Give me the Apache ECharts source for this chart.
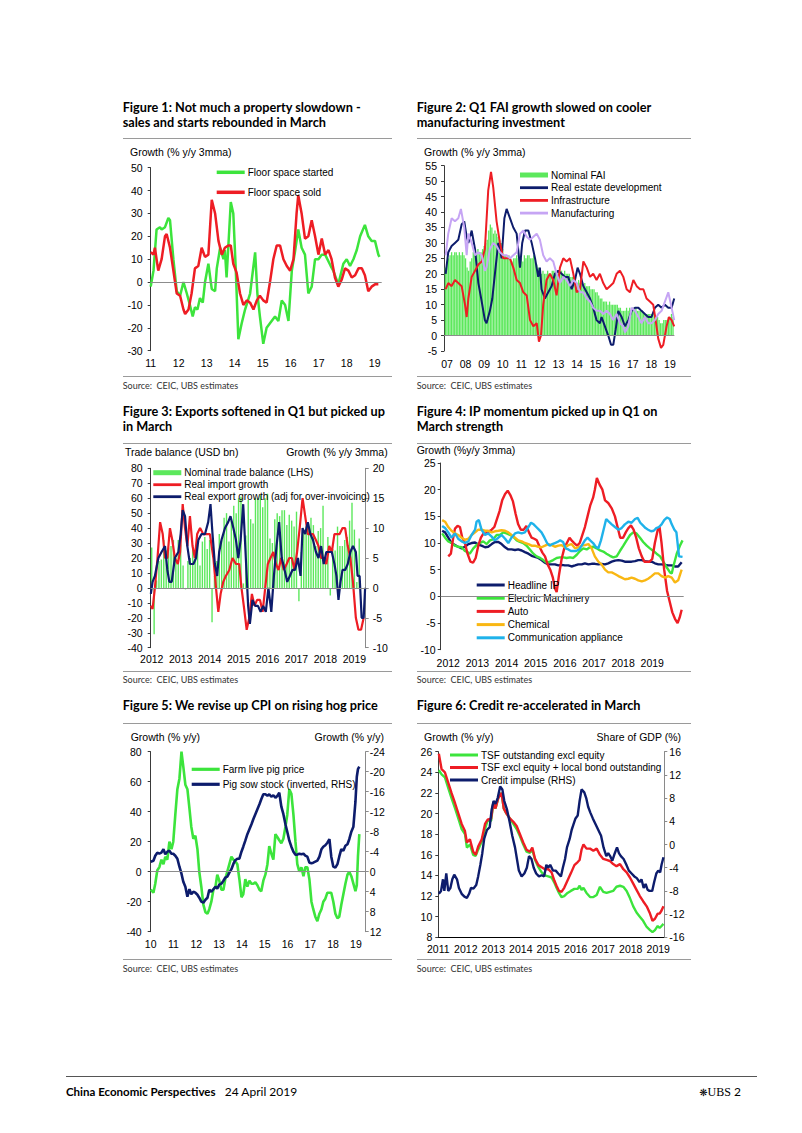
<!DOCTYPE html>
<html>
<head>
<meta charset="utf-8">
<script src="https://cdn.jsdelivr.net/npm/echarts@6.0.0/dist/echarts.min.js"></script>
<style>
html,body{margin:0;padding:0;background:#fff;}
#page{position:relative;width:802px;height:1133px;overflow:hidden;background:#fff;}
#chart{position:absolute;left:0;top:0;width:802px;height:1133px;}
.t{position:absolute;white-space:pre;color:#000;z-index:5;}
.title{font-family:Lato,"Open Sans",sans-serif;font-weight:700;font-size:12.7px;line-height:14.5px;}
.src{font-family:Lato,"Open Sans",sans-serif;font-size:9px;line-height:12px;color:#333;}
.hdr{font-family:"Liberation Sans",Arial,sans-serif;font-size:10.5px;line-height:12px;}
.rule{position:absolute;height:0;border-top:1px solid #9a9a9a;z-index:5;}
.foot{font-family:Lato,"Open Sans",sans-serif;font-size:12px;line-height:14px;}
</style>
</head>
<body>
<div id="page">
<div id="chart"></div>

<div class="t title" style="left:122.7px;top:100px;">Figure 1: Not much a property slowdown -
sales and starts rebounded in March</div>
<div class="t title" style="left:416.7px;top:100px;">Figure 2: Q1 FAI growth slowed on cooler
manufacturing investment</div>
<div class="t title" style="left:122.7px;top:404.4px;">Figure 3: Exports softened in Q1 but picked up
in March</div>
<div class="t title" style="left:416.7px;top:404.4px;">Figure 4: IP momentum picked up in Q1 on
March strength</div>
<div class="t title" style="left:122.7px;top:697.7px;">Figure 5: We revise up CPI on rising hog price</div>
<div class="t title" style="left:416.7px;top:697.7px;">Figure 6: Credit re-accelerated in March</div>

<div class="rule" style="left:122.7px;top:138px;width:269px;"></div>
<div class="rule" style="left:416.7px;top:138px;width:274.3px;"></div>
<div class="rule" style="left:122.7px;top:442.5px;width:269px;"></div>
<div class="rule" style="left:416.7px;top:442.5px;width:274.3px;"></div>
<div class="rule" style="left:122.7px;top:723px;width:269px;"></div>
<div class="rule" style="left:416.7px;top:723px;width:274.3px;"></div>

<div class="rule" style="left:122.7px;top:375.5px;width:269px;"></div>
<div class="rule" style="left:416.7px;top:375.5px;width:274.3px;"></div>
<div class="rule" style="left:122.7px;top:671px;width:269px;"></div>
<div class="rule" style="left:416.7px;top:671px;width:274.3px;"></div>
<div class="rule" style="left:122.7px;top:958.5px;width:269px;"></div>
<div class="rule" style="left:416.7px;top:958.5px;width:274.3px;"></div>

<div class="t src" style="left:122.7px;top:379.5px;">Source:  CEIC, UBS estimates</div>
<div class="t src" style="left:416.7px;top:379.5px;">Source:  CEIC, UBS estimates</div>
<div class="t src" style="left:122.7px;top:673.5px;">Source:  CEIC, UBS estimates</div>
<div class="t src" style="left:416.7px;top:673.5px;">Source:  CEIC, UBS estimates</div>
<div class="t src" style="left:122.7px;top:963px;">Source:  CEIC, UBS estimates</div>
<div class="t src" style="left:416.7px;top:963px;">Source:  CEIC, UBS estimates</div>

<div class="t hdr" style="left:130px;top:146.3px;">Growth (% y/y 3mma)</div>
<div class="t hdr" style="left:424px;top:146.3px;">Growth (% y/y 3mma)</div>
<div class="t hdr" style="left:125px;top:445.7px;">Trade balance (USD bn)</div>
<div class="t hdr" style="right:414.3px;top:445.7px;">Growth (% y/y 3mma)</div>
<div class="t hdr" style="left:416.7px;top:444px;">Growth (%y/y 3mma)</div>
<div class="t hdr" style="left:130.7px;top:730.7px;">Growth (% y/y)</div>
<div class="t hdr" style="right:418px;top:730.7px;">Growth (% y/y)</div>
<div class="t hdr" style="left:424px;top:730.7px;">Growth (% y/y)</div>
<div class="t hdr" style="right:121px;top:730.7px;">Share of GDP (%)</div>

<div style="position:absolute;left:66px;top:1076px;width:691px;height:0;border-top:1.3px solid #555;"></div>
<div class="t foot" style="left:66px;top:1085px;"><b style="font-size:11.5px;">China Economic Perspectives</b>   24 April 2019</div>
<div class="t foot" style="right:61px;top:1085px;"><span style="font-family:'DejaVu Sans';font-size:10px;">❋</span><span style="font-family:'Liberation Serif';font-size:12px;">UBS</span> 2</div>
</div>

<script>
// ---------------- DATA ----------------
// Figure 1: floor space, % y/y 3mma  [year, value]
const fig1Started = [[2011.00,-2],[2011.10,5],[2011.21,23],[2011.33,24],[2011.39,23],[2011.51,24],[2011.63,28],[2011.69,27],[2011.81,10],[2011.93,-4],[2012.05,-6],[2012.17,0],[2012.29,-5],[2012.40,-10],[2012.50,-15],[2012.58,-11],[2012.67,-12],[2012.76,-7],[2012.86,-9],[2012.94,0],[2013.06,8],[2013.18,-3],[2013.30,-4],[2013.36,6],[2013.48,15],[2013.60,10],[2013.65,14],[2013.71,2],[2013.77,15],[2013.86,35],[2013.95,30],[2014.04,5],[2014.13,-25],[2014.25,-18],[2014.37,-12],[2014.55,-5],[2014.73,13],[2014.81,-5],[2014.90,-15],[2015.02,-27],[2015.14,-20],[2015.26,-18],[2015.44,-15],[2015.56,-17],[2015.68,-8],[2015.80,-10],[2015.92,-17],[2016.04,5],[2016.15,13],[2016.27,23],[2016.39,15],[2016.51,12],[2016.63,-5],[2016.75,-2],[2016.87,10],[2016.99,10],[2017.11,12],[2017.23,12],[2017.35,9],[2017.43,7],[2017.52,5],[2017.70,-1],[2017.88,8],[2018.00,10],[2018.12,7],[2018.24,10],[2018.36,14],[2018.48,20],[2018.65,25],[2018.77,20],[2018.89,18],[2019.01,18],[2019.13,12],[2019.17,11]];
const fig1Sold = [[2011.00,13],[2011.10,12],[2011.15,15],[2011.27,5],[2011.39,10],[2011.51,20],[2011.57,21],[2011.69,15],[2011.81,5],[2011.93,-5],[2012.05,-6],[2012.17,-12],[2012.23,-14],[2012.35,-12],[2012.46,-5],[2012.58,6],[2012.70,7],[2012.82,15],[2012.94,11],[2013.06,12],[2013.18,36],[2013.30,30],[2013.42,18],[2013.54,12],[2013.65,15],[2013.77,16],[2013.86,16],[2013.95,8],[2014.07,4],[2014.19,-5],[2014.31,-10],[2014.43,-8],[2014.55,-9],[2014.67,-12],[2014.79,-8],[2014.90,-6],[2015.02,-8],[2015.14,-9],[2015.26,0],[2015.38,10],[2015.50,16],[2015.62,16],[2015.74,10],[2015.86,7],[2015.98,5],[2016.10,10],[2016.21,30],[2016.27,38],[2016.39,30],[2016.51,19],[2016.63,20],[2016.75,27],[2016.87,20],[2016.99,12],[2017.11,19],[2017.23,12],[2017.35,14],[2017.46,10],[2017.58,2],[2017.70,-2],[2017.82,1],[2017.94,6],[2018.06,5],[2018.18,2],[2018.30,3],[2018.42,6],[2018.54,6],[2018.65,3],[2018.77,-4],[2018.89,-2],[2019.01,-1],[2019.13,-1]];
const fig1Years = [2011,2012,2013,2014,2015,2016,2017,2018,2019];

// Figure 2: FAI, % y/y 3mma
const fig2FaiStart = 2006 + 11/12; // first monthly bar: Dec 2006
const fig2Fai = [22,
 24,25,26,27,26,27,27,26,27,26,27,26,
 25,22,21,24,25,27,27,26,28,27,27,28,
 29,30,31,34,36,35,33,34,33,32,31,30,
 28,26,26,25,26,25,24,25,25,26,25,24,
 25,24,26,25,26,26,25,25,26,24,23,22,
 21,20,21,20,20,21,20,20,21,21,20,21,
 21,20,21,20,21,20,20,20,19,19,19,18,
 17,18,17,17,16,17,16,16,16,15,15,15,
 14,14,13,12,12,11,11,11,10,11,10,10,
 10,10,10,9,9,8,8,8,9,8,9,8,
 9,9,9,8,8,8,8,7,7,7,7,7,
 7,7,7,6,6,5,4,4,5,5,5,6,
 6,7,6];
const fig2RealEstate = [[2006.93,20],[2007.07,27],[2007.25,29],[2007.43,30],[2007.61,31],[2007.79,36],[2007.93,37],[2008.06,32],[2008.15,30],[2008.24,32],[2008.33,34],[2008.51,28],[2008.69,17],[2008.87,11],[2009.04,5],[2009.13,4],[2009.31,8],[2009.44,12],[2009.58,20],[2009.76,30],[2009.85,28],[2009.94,25],[2010.09,38],[2010.21,41],[2010.39,38],[2010.57,35],[2010.75,33],[2010.93,22],[2011.05,30],[2011.20,34],[2011.38,34],[2011.56,30],[2011.74,25],[2011.91,19],[2012.00,22],[2012.09,15],[2012.27,12],[2012.45,14],[2012.63,16],[2012.81,20],[2012.99,21],[2013.17,20],[2013.35,19],[2013.53,19],[2013.71,15],[2013.89,18],[2014.03,22],[2014.16,20],[2014.34,16],[2014.52,14],[2014.70,12],[2014.87,9],[2015.05,5],[2015.23,4],[2015.32,6],[2015.50,3],[2015.68,0],[2015.83,-3],[2015.95,-3],[2016.08,2],[2016.22,8],[2016.40,6],[2016.58,3],[2016.76,5],[2016.94,8],[2017.12,9],[2017.30,9],[2017.47,8],[2017.65,7],[2017.83,6],[2018.01,6],[2018.19,9],[2018.37,10],[2018.55,9],[2018.73,10],[2018.91,9],[2019.09,9],[2019.23,12]];
const fig2Infra = [[2006.93,15],[2007.07,17],[2007.25,16],[2007.43,18],[2007.61,17],[2007.79,16],[2007.97,10],[2008.06,6],[2008.15,12],[2008.33,19],[2008.51,21],[2008.69,23],[2008.87,24],[2009.04,28],[2009.22,47],[2009.37,53],[2009.49,48],[2009.67,37],[2009.85,30],[2010.03,25],[2010.21,25],[2010.39,25],[2010.57,22],[2010.75,18],[2010.93,17],[2011.11,14],[2011.29,13],[2011.47,5],[2011.65,3],[2011.83,4],[2011.95,-2],[2012.06,0],[2012.18,10],[2012.36,18],[2012.54,20],[2012.72,18],[2012.90,13],[2013.08,22],[2013.26,25],[2013.44,24],[2013.62,25],[2013.80,20],[2013.98,14],[2014.16,15],[2014.34,24],[2014.52,22],[2014.70,19],[2014.87,20],[2015.05,18],[2015.23,20],[2015.41,17],[2015.59,15],[2015.77,16],[2015.95,17],[2016.13,20],[2016.31,21],[2016.49,19],[2016.67,15],[2016.85,14],[2017.03,18],[2017.21,16],[2017.39,15],[2017.57,15],[2017.74,12],[2017.92,11],[2018.10,10],[2018.23,5],[2018.37,-1],[2018.52,-4],[2018.64,-3],[2018.82,3],[2018.95,6],[2019.09,5],[2019.23,3]];
const fig2Manuf = [[2006.93,26],[2007.07,33],[2007.25,38],[2007.43,37],[2007.61,38],[2007.75,41],[2007.93,35],[2008.06,26],[2008.15,33],[2008.33,30],[2008.51,26],[2008.69,27],[2008.87,26],[2009.04,21],[2009.13,22],[2009.31,28],[2009.49,30],[2009.67,29],[2009.85,27],[2010.03,26],[2010.21,26],[2010.39,25],[2010.57,26],[2010.75,27],[2010.93,33],[2011.11,34],[2011.29,32],[2011.47,31],[2011.65,32],[2011.83,33],[2012.00,31],[2012.18,26],[2012.36,24],[2012.54,25],[2012.72,24],[2012.90,20],[2013.08,17],[2013.26,19],[2013.44,18],[2013.62,16],[2013.80,18],[2013.98,17],[2014.16,14],[2014.34,14],[2014.52,12],[2014.70,11],[2014.87,9],[2015.05,8],[2015.23,8],[2015.41,7],[2015.59,8],[2015.77,7],[2015.95,5],[2016.13,7],[2016.31,4],[2016.49,3],[2016.58,1],[2016.76,3],[2016.94,9],[2017.12,8],[2017.30,6],[2017.47,4],[2017.65,6],[2017.83,4],[2018.01,4],[2018.19,5],[2018.37,7],[2018.55,8],[2018.73,11],[2018.91,14],[2019.09,9],[2019.23,5]];
const fig2Years = [2007,2008,2009,2010,2011,2012,2013,2014,2015,2016,2017,2018,2019];

// Figure 3: trade
const fig3TradeStart = 2012; // Jan 2012, monthly
const fig3Trade = [27,-31,5,18,19,32,25,27,28,32,20,32,
 29,15,-1,18,20,27,18,29,15,31,34,26,
 32,-23,8,18,36,32,47,50,31,45,55,50,
 60,61,3,35,59,46,43,60,60,62,54,60,
 63,33,30,46,50,48,52,52,42,49,45,41,
 51,-9,24,38,41,43,47,42,28,38,40,55,
 20,34,-5,26,25,41,28,28,32,34,45,57,
 39,4,33];
const fig3Import = [[2011.97,-3],[2012.03,-3.5],[2012.11,0],[2012.20,5],[2012.29,11],[2012.38,9],[2012.46,5],[2012.54,5],[2012.63,10],[2012.71,8],[2012.80,5],[2012.90,4],[2012.98,6],[2013.07,14],[2013.15,10],[2013.23,7],[2013.32,12],[2013.41,7],[2013.49,5],[2013.57,9],[2013.67,10],[2013.78,9],[2013.90,9],[2014.01,9],[2014.13,5],[2014.22,0],[2014.30,-4],[2014.38,-1],[2014.47,1],[2014.56,2],[2014.68,3],[2014.79,5],[2014.91,4],[2015.02,4],[2015.10,0],[2015.18,-3],[2015.28,-7],[2015.37,-5],[2015.46,-1],[2015.55,-3],[2015.64,-2],[2015.74,-2],[2015.83,-4],[2015.92,0],[2016.01,4],[2016.10,5],[2016.20,6],[2016.29,4],[2016.38,3],[2016.47,5],[2016.56,3],[2016.66,4],[2016.75,5],[2016.84,5],[2016.93,3],[2017.02,6],[2017.11,10],[2017.21,15],[2017.30,12],[2017.39,9],[2017.48,9],[2017.57,9],[2017.67,8],[2017.76,7],[2017.85,5],[2017.94,5],[2018.03,4],[2018.13,7],[2018.22,6],[2018.31,9],[2018.40,9],[2018.49,9],[2018.59,10],[2018.68,10],[2018.77,7],[2018.86,5],[2018.95,1],[2019.05,-5],[2019.14,-7],[2019.23,-7],[2019.32,-5]];
const fig3Export = [[2011.97,-1],[2012.03,1],[2012.11,2],[2012.23,5],[2012.34,6],[2012.46,7],[2012.54,3],[2012.61,1],[2012.69,1],[2012.80,5],[2012.92,6],[2013.00,9],[2013.07,13],[2013.15,12],[2013.23,7],[2013.32,4],[2013.44,4],[2013.53,5],[2013.61,8],[2013.72,9],[2013.84,9],[2013.95,11],[2014.03,14],[2014.10,9],[2014.18,4],[2014.26,2],[2014.33,6],[2014.41,8],[2014.53,10],[2014.64,11],[2014.72,12],[2014.82,10],[2014.91,8],[2014.99,5],[2015.07,8],[2015.16,14],[2015.25,5],[2015.33,-3],[2015.39,-6],[2015.48,-2],[2015.57,-3],[2015.67,-3],[2015.76,-4],[2015.85,-3],[2015.94,-4],[2016.03,0],[2016.13,-4],[2016.22,2],[2016.31,7],[2016.40,11],[2016.49,5],[2016.59,3],[2016.68,1],[2016.77,2],[2016.86,3],[2016.95,3],[2017.05,5],[2017.14,2],[2017.21,10],[2017.30,9],[2017.39,11],[2017.48,9],[2017.57,8],[2017.67,6],[2017.76,5],[2017.85,7],[2017.94,4],[2018.03,6],[2018.13,6],[2018.22,6],[2018.31,4],[2018.38,2],[2018.45,-2],[2018.52,1],[2018.59,3],[2018.68,3],[2018.77,4],[2018.86,6],[2018.95,7],[2019.05,6],[2019.11,2],[2019.18,2],[2019.25,-5],[2019.32,-5],[2019.37,0]];
const fig3Years = [2012,2013,2014,2015,2016,2017,2018,2019];

// Figure 4: IP, % y/y 3mma (positions on the printed year scale)
const fig4Headline = [[2011.79,12.3],[2011.89,12],[2012.00,11],[2012.11,10],[2012.23,9.6],[2012.34,9.3],[2012.46,9],[2012.57,9.3],[2012.69,9.8],[2012.80,10],[2012.92,10.1],[2013.03,9.7],[2013.14,9.5],[2013.26,9.2],[2013.37,9.3],[2013.49,9.8],[2013.60,10.2],[2013.72,10.2],[2013.83,9.8],[2013.95,9.2],[2014.06,8.8],[2014.17,8.8],[2014.29,8.7],[2014.40,8.8],[2014.52,8.6],[2014.63,8.3],[2014.75,8.0],[2014.86,7.6],[2014.97,7.4],[2015.09,7.2],[2015.20,6.8],[2015.32,6.3],[2015.43,6.0],[2015.55,6.0],[2015.66,6.0],[2015.78,5.8],[2015.89,5.9],[2016.00,5.8],[2016.12,5.8],[2016.23,5.6],[2016.35,5.8],[2016.46,6.0],[2016.58,6.0],[2016.69,6.2],[2016.81,6.0],[2016.92,6.1],[2017.03,6.1],[2017.15,6.0],[2017.26,6.1],[2017.38,6.0],[2017.49,6.2],[2017.61,6.5],[2017.72,6.7],[2017.84,6.8],[2017.95,6.7],[2018.06,6.5],[2018.18,6.5],[2018.29,6.5],[2018.41,6.6],[2018.52,6.8],[2018.64,6.8],[2018.75,6.6],[2018.86,6.5],[2018.98,6.5],[2019.09,6.2],[2019.21,6.0],[2019.32,6.0],[2019.44,5.9],[2019.55,5.8],[2019.67,5.8],[2019.78,5.6],[2019.89,5.6],[2020.01,6.4]];
const fig4Electric = [[2011.79,11.8],[2011.89,11],[2012.00,10.3],[2012.11,10],[2012.23,9.5],[2012.34,9.3],[2012.46,9.2],[2012.57,8.5],[2012.69,8.2],[2012.74,8],[2012.86,9],[2012.97,9.6],[2013.09,10],[2013.20,10.3],[2013.32,9.8],[2013.43,10.5],[2013.54,10.7],[2013.66,11.5],[2013.77,11.5],[2013.89,12],[2014.00,11.8],[2014.12,11.5],[2014.23,11.2],[2014.35,10.5],[2014.46,10.2],[2014.57,10.0],[2014.69,9.5],[2014.80,8.8],[2014.92,8.0],[2015.03,7.5],[2015.15,7.2],[2015.26,6.8],[2015.38,6.3],[2015.49,6.5],[2015.60,6.8],[2015.72,7.2],[2015.83,7.3],[2015.95,7.3],[2016.06,7.2],[2016.18,7.3],[2016.29,7.2],[2016.41,7.8],[2016.52,8.5],[2016.63,9.0],[2016.75,8.8],[2016.86,9.2],[2016.98,9.3],[2017.09,9.0],[2017.21,8.6],[2017.32,8.4],[2017.43,8.0],[2017.55,7.6],[2017.66,7.3],[2017.78,7.5],[2017.89,8.5],[2018.01,9.5],[2018.12,10.5],[2018.24,11.5],[2018.35,12.0],[2018.46,11.8],[2018.58,11.0],[2018.69,10.2],[2018.81,9.5],[2018.92,9.0],[2019.04,8.5],[2019.15,8.0],[2019.27,7.5],[2019.38,6.5],[2019.49,5.5],[2019.61,4.5],[2019.67,4.3],[2019.72,5.5],[2019.84,8],[2019.95,9.5],[2020.04,10.5]];
const fig4Auto = [[2012.00,7.5],[2012.09,8],[2012.17,11],[2012.23,12.7],[2012.32,13.2],[2012.40,13],[2012.48,11],[2012.57,10],[2012.66,8],[2012.76,6.5],[2012.85,6.3],[2012.94,7.2],[2013.03,9.5],[2013.12,11],[2013.21,11.8],[2013.30,11.8],[2013.40,12.2],[2013.49,12.5],[2013.58,13],[2013.67,14.5],[2013.76,16],[2013.85,18],[2013.95,19.2],[2014.04,19.8],[2014.13,19],[2014.22,17.8],[2014.31,15.5],[2014.40,13.5],[2014.49,12.5],[2014.59,12.5],[2014.68,13.2],[2014.77,12],[2014.86,11],[2014.95,10.8],[2015.04,10.5],[2015.14,9.2],[2015.23,8.2],[2015.32,7.5],[2015.41,6.0],[2015.50,5.0],[2015.59,3.5],[2015.66,1.5],[2015.72,0.8],[2015.80,4],[2015.89,7],[2015.98,9],[2016.07,10],[2016.16,11],[2016.23,10.5],[2016.32,10],[2016.42,9.5],[2016.51,10],[2016.60,11.5],[2016.69,13],[2016.78,15],[2016.87,17],[2016.97,18.5],[2017.03,20],[2017.10,22.2],[2017.19,21],[2017.29,20],[2017.38,18],[2017.49,17.5],[2017.61,16.5],[2017.72,15],[2017.81,13],[2017.90,11],[2018.00,11],[2018.09,12],[2018.18,12.8],[2018.27,13.3],[2018.36,12.5],[2018.45,11],[2018.54,9],[2018.64,7.5],[2018.73,6.5],[2018.82,6.5],[2018.91,6.5],[2019.00,7],[2019.09,10],[2019.19,12.5],[2019.25,13],[2019.32,10],[2019.41,5],[2019.51,1],[2019.60,-1],[2019.69,-3],[2019.78,-4.2],[2019.87,-5],[2019.94,-4],[2020.01,-2.5]];
const fig4Chemical = [[2011.79,14.3],[2011.89,14.0],[2012.00,13],[2012.11,12.3],[2012.23,11.8],[2012.34,11.5],[2012.46,11.0],[2012.57,10.6],[2012.69,10.8],[2012.80,11.5],[2012.92,12.0],[2013.03,12.5],[2013.14,12.5],[2013.26,12.3],[2013.37,12.3],[2013.49,12.0],[2013.60,12.2],[2013.72,12.3],[2013.83,12.4],[2013.95,12.3],[2014.06,12.0],[2014.17,11.5],[2014.29,11.0],[2014.40,10.5],[2014.52,10.3],[2014.63,10.0],[2014.75,9.8],[2014.86,9.5],[2014.97,9.5],[2015.09,9.3],[2015.20,9.2],[2015.32,9.5],[2015.43,9.8],[2015.55,9.6],[2015.66,9.3],[2015.78,9.5],[2015.89,9.6],[2016.00,9.2],[2016.12,9.6],[2016.23,9.8],[2016.35,9.0],[2016.46,9.2],[2016.58,9.5],[2016.69,9.6],[2016.81,9.8],[2016.92,9.0],[2017.03,7.5],[2017.15,6.5],[2017.26,6.0],[2017.38,5.0],[2017.49,4.5],[2017.61,4.5],[2017.72,4.2],[2017.84,3.8],[2017.95,3.5],[2018.06,3.2],[2018.18,3.3],[2018.29,3.5],[2018.41,3.3],[2018.52,3.0],[2018.64,2.8],[2018.75,3.0],[2018.86,3.3],[2018.98,3.8],[2019.09,4.3],[2019.21,4.3],[2019.32,3.8],[2019.44,3.5],[2019.55,3.8],[2019.67,3.5],[2019.78,2.6],[2019.89,3.0],[2020.01,5.0]];
const fig4Comm = [[2011.79,13.2],[2011.89,12.8],[2012.00,12.0],[2012.11,11.0],[2012.23,11.8],[2012.34,10.8],[2012.46,10.3],[2012.57,10.0],[2012.69,10.3],[2012.80,11.5],[2012.92,12.5],[2012.97,14],[2013.05,14.3],[2013.14,12.5],[2013.26,11.5],[2013.37,11.8],[2013.49,11.2],[2013.60,10.5],[2013.72,11.0],[2013.83,11.5],[2013.95,10.8],[2014.06,10.0],[2014.17,11.0],[2014.29,11.8],[2014.40,12.0],[2014.52,11.8],[2014.63,12.0],[2014.75,13.0],[2014.84,13.8],[2014.93,13.5],[2015.02,13.0],[2015.11,12.5],[2015.20,12.0],[2015.30,11.0],[2015.39,10.0],[2015.48,9.5],[2015.57,9.8],[2015.66,10.0],[2015.75,10.2],[2015.84,10.5],[2015.94,10.2],[2016.03,9.0],[2016.12,8.8],[2016.21,8.5],[2016.30,8.5],[2016.39,8.5],[2016.49,8.8],[2016.58,9.5],[2016.69,10.5],[2016.78,11],[2016.87,10.5],[2016.97,10],[2017.06,9.3],[2017.15,9.0],[2017.24,10.5],[2017.33,12.5],[2017.42,14.5],[2017.51,14.0],[2017.61,13.5],[2017.72,13.0],[2017.84,12.5],[2017.95,12.8],[2018.06,13.5],[2018.18,14.0],[2018.29,13.8],[2018.41,14.5],[2018.50,14.7],[2018.59,13.8],[2018.68,13.3],[2018.77,12.8],[2018.86,12.5],[2018.96,12.2],[2019.05,12.3],[2019.14,12.8],[2019.23,13.0],[2019.32,13.5],[2019.41,14.3],[2019.51,14.8],[2019.60,14.5],[2019.67,13.5],[2019.76,12.5],[2019.83,12.0],[2019.87,10.0],[2019.92,7.5],[2020.04,7.4]];
const fig4Years = [2012,2013,2014,2015,2016,2017,2018,2019];

// Figure 5: pig prices (% y/y) and sow stock (% y/y, inverted)
const fig5Time = [2010.00,2010.12,2010.20,2010.29,2010.38,2010.47,2010.56,2010.64,2010.73,2010.82,2010.91,2010.99,2011.08,2011.17,2011.26,2011.35,2011.43,2011.52,2011.61,2011.70,2011.78,2011.87,2011.96,2012.05,2012.13,2012.22,2012.31,2012.40,2012.49,2012.57,2012.66,2012.75,2012.84,2012.92,2013.01,2013.10,2013.19,2013.27,2013.36,2013.45,2013.54,2013.63,2013.71,2013.80,2013.89,2013.98,2014.06,2014.15,2014.24,2014.33,2014.42,2014.50,2014.59,2014.68,2014.77,2014.85,2014.94,2015.03,2015.12,2015.20,2015.29,2015.38,2015.47,2015.56,2015.64,2015.73,2015.82,2015.91,2015.99,2016.08,2016.17,2016.26,2016.35,2016.43,2016.52,2016.61,2016.70,2016.78,2016.87,2016.96,2017.05,2017.13,2017.22,2017.31,2017.40,2017.49,2017.57,2017.66,2017.75,2017.84,2017.92,2018.01,2018.10,2018.19,2018.27,2018.36,2018.45,2018.54,2018.63,2018.71,2018.80,2018.89,2018.98,2019.04,2019.09,2019.15];
const fig5Pig = [-12,-14,-8,1,3,8,5,10,8,20,15,20,38,55,62,80,70,58,55,42,30,22,24,15,0,-10,-22,-27,-28,-25,-20,-12,-10,-2,-6,-12,-12,-5,0,5,10,8,7,5,-5,-17,-15,-5,-10,-6,-8,-8,-7,-9,-12,-13,-6,-2,5,17,12,8,25,23,21,19,22,30,38,55,52,38,20,5,0,3,-3,3,3,-5,-20,-25,-30,-33,-28,-25,-20,-18,-14,-14,-14,-20,-28,-31,-30,-22,-15,-8,-2,0,-3,-8,-13,-9,10,25];
const fig5Sow = [-2.0,-2.2,-3.2,-3.8,-3.6,-3.8,-4.5,-3.5,-4.0,-4.2,-3.6,-3.6,-3.2,-2.6,-1.0,0.4,2.0,3.0,5.0,3.5,4.5,4.0,4.2,4.6,5.2,6.0,6.2,5.6,5.2,3.6,4.0,3.5,3.0,3.4,2.6,2.4,1.8,1.2,1.0,0.2,-0.5,-1.6,-2.3,-2.6,-2.6,-4.0,-5.0,-6.2,-7.5,-8.5,-9.5,-10.5,-11.5,-12.5,-13.5,-14.5,-15.5,-15.5,-15.2,-15.5,-15.0,-15.3,-14.8,-15.2,-15.8,-13.0,-11.5,-9.5,-8.0,-6.2,-5.0,-4.0,-3.4,-3.4,-3.6,-3.5,-3.6,-3.2,-3.0,-1.8,-1.7,-1.8,-2.0,-2.2,-3.0,-4.5,-5.0,-5.3,-5.8,-6.5,-3.0,-1.0,-0.8,-1.5,-3.0,-4.5,-4.2,-5.2,-5.5,-6.5,-8.0,-9.0,-14,-19,-20.5,-21];
const fig5Years = [2010,2011,2012,2013,2014,2015,2016,2017,2018,2019];

// Figure 6: credit
const fig6Tsf = [[2011.02,24.2],[2011.12,23.8],[2011.24,23.5],[2011.36,22.5],[2011.48,21.5],[2011.61,20.5],[2011.73,19.5],[2011.85,18.5],[2011.97,18.0],[2012.04,16.7],[2012.15,17.0],[2012.27,16.0],[2012.36,15.9],[2012.45,16.5],[2012.58,17.3],[2012.70,18.5],[2012.79,19.3],[2012.92,19.3],[2013.00,21.0],[2013.08,20.5],[2013.18,21.5],[2013.30,22.0],[2013.38,20.5],[2013.48,20.0],[2013.61,19.5],[2013.73,19.0],[2013.85,18.5],[2013.97,17.8],[2014.09,17.0],[2014.21,16.3],[2014.33,16.2],[2014.42,16.5],[2014.52,15.5],[2014.64,14.8],[2014.76,14.3],[2014.88,14.0],[2015.00,13.9],[2015.12,13.8],[2015.22,13.3],[2015.30,12.8],[2015.39,12.3],[2015.48,11.9],[2015.58,12.0],[2015.70,12.3],[2015.82,12.5],[2015.95,12.7],[2016.07,12.7],[2016.14,13.0],[2016.21,12.6],[2016.28,12.8],[2016.39,12.3],[2016.52,11.9],[2016.64,11.9],[2016.76,12.1],[2016.88,12.9],[2017.00,12.4],[2017.12,12.3],[2017.24,12.4],[2017.36,12.5],[2017.48,12.9],[2017.61,13.0],[2017.73,12.9],[2017.85,12.5],[2017.97,11.8],[2018.09,11.0],[2018.21,10.4],[2018.33,10.0],[2018.45,9.6],[2018.58,9.0],[2018.70,8.7],[2018.79,8.5],[2018.88,8.7],[2018.98,9.1],[2019.05,8.9],[2019.12,9.1],[2019.19,9.3]];
const fig6TsfBond = [[2011.02,25.8],[2011.12,24.3],[2011.24,24.0],[2011.36,23.0],[2011.48,22.0],[2011.61,21.0],[2011.73,20.0],[2011.85,19.0],[2011.97,18.3],[2012.04,17.2],[2012.15,17.5],[2012.27,16.3],[2012.36,16.0],[2012.45,16.8],[2012.58,17.5],[2012.70,19.0],[2012.79,19.4],[2012.92,19.5],[2013.00,21.0],[2013.08,20.5],[2013.18,21.5],[2013.30,22.0],[2013.38,20.5],[2013.48,20.0],[2013.61,19.5],[2013.73,19.2],[2013.85,18.8],[2013.97,18.0],[2014.09,17.2],[2014.21,16.5],[2014.33,16.3],[2014.42,16.7],[2014.52,15.6],[2014.64,15.0],[2014.76,14.8],[2014.88,14.6],[2015.00,14.6],[2015.12,14.3],[2015.22,13.5],[2015.30,13.0],[2015.39,12.5],[2015.48,12.4],[2015.58,12.8],[2015.70,13.5],[2015.82,14.2],[2015.95,15.0],[2016.07,15.3],[2016.14,15.5],[2016.21,16.5],[2016.28,17.0],[2016.39,16.6],[2016.52,16.6],[2016.64,16.4],[2016.76,16.6],[2016.88,16.0],[2017.00,15.6],[2017.12,15.5],[2017.24,15.4],[2017.36,15.1],[2017.48,14.9],[2017.61,15.1],[2017.73,14.6],[2017.85,14.3],[2017.97,13.8],[2018.09,13.2],[2018.21,12.6],[2018.33,12.0],[2018.45,11.5],[2018.58,11.0],[2018.70,10.3],[2018.79,9.6],[2018.88,9.8],[2018.98,10.3],[2019.05,10.3],[2019.12,10.6],[2019.19,11.0]];
const fig6Impulse = [[2011.02,-8.5],[2011.10,-8],[2011.17,-6],[2011.22,-8],[2011.29,-5],[2011.36,-8],[2011.44,-7.5],[2011.51,-6],[2011.58,-5.2],[2011.68,-6],[2011.75,-7.5],[2011.85,-8.5],[2011.95,-9],[2012.04,-9.2],[2012.12,-8.5],[2012.19,-7.5],[2012.28,-7.6],[2012.38,-7],[2012.45,-5.5],[2012.53,-3.5],[2012.60,-1.5],[2012.67,1],[2012.77,2.5],[2012.87,3],[2012.94,6],[2013.01,7.5],[2013.08,7],[2013.16,8],[2013.25,10],[2013.33,9.5],[2013.40,7.5],[2013.50,6],[2013.59,4],[2013.69,1.5],[2013.79,-0.5],[2013.86,-2.5],[2013.93,-4.5],[2014.03,-5.5],[2014.13,-5],[2014.22,-4],[2014.30,-2],[2014.39,-2.5],[2014.47,-4],[2014.56,-5],[2014.66,-5.5],[2014.76,-5.3],[2014.85,-5.5],[2014.93,-3.5],[2015.00,-4],[2015.07,-3.5],[2015.17,-4.5],[2015.27,-4.5],[2015.36,-5],[2015.46,-5.5],[2015.53,-4],[2015.61,-2.5],[2015.68,-0.5],[2015.78,1],[2015.85,2.5],[2015.92,3.5],[2015.99,4.5],[2016.07,5],[2016.14,7.5],[2016.21,9.5],[2016.31,9],[2016.38,8],[2016.45,6.5],[2016.53,5.5],[2016.62,4.5],[2016.72,3.5],[2016.82,2.5],[2016.92,1.5],[2017.01,-0.5],[2017.11,-2],[2017.18,-1.5],[2017.25,-2],[2017.33,-2.8],[2017.42,-1.5],[2017.50,-0.5],[2017.57,-1.5],[2017.64,-2],[2017.74,-2.5],[2017.84,-3.5],[2017.93,-4.5],[2018.03,-5],[2018.13,-5.5],[2018.22,-5.8],[2018.32,-6.5],[2018.39,-6],[2018.47,-7.5],[2018.54,-6.8],[2018.61,-7.8],[2018.68,-8],[2018.78,-8],[2018.85,-6.5],[2018.93,-5],[2019.00,-4.5],[2019.07,-4.8],[2019.12,-3.5],[2019.19,-2.2]];
const fig6Years = [2011,2012,2013,2014,2015,2016,2017,2018,2019];

// ---------------- STYLE ----------------
const FONT = '"Liberation Sans", Arial, Helvetica, sans-serif';
const GREEN = '#3ce43c', RED = '#ee1d24', NAVY = '#0d1c6c', LAV = '#c6a5f4';
const BARG = '#5ce85c', ORANGE = '#f9b713', CYAN = '#1fb2ea';
const AXIS = '#3a3a3a', AXIS2 = '#8a8a8a', ZERO = '#8c8c8c';
// legend icon: a thin bar centred in a 5px-high box (for legends that also hold a bar icon)
const THIN_ICON = 'path://M0,0 M28,5 M0,1.1 L28,1.1 L28,3.9 L0,3.9 Z';

function monthly(start, vals) { return vals.map((v, i) => [start + i / 12, v]); }
function zip(t, v) { return t.map((x, i) => [x, v[i]]); }
const yy = v => String(Math.round(v)).slice(2);
const yyyy = v => String(Math.round(v));

function xAx(g, min, max, ticks, fmt, margin, showLine) {
  return {
    type: 'value', gridIndex: g, min: min, max: max,
    axisLine: { show: !!showLine, onZero: false, lineStyle: { color: '#000', width: 1 } },
    axisTick: { show: false }, splitLine: { show: false },
    axisLabel: { customValues: ticks, formatter: fmt, margin: margin, fontSize: 10.5, fontFamily: FONT, color: '#000' }
  };
}
function yAx(g, min, max, interval, o) {
  o = o || {};
  const c = o.color || AXIS;
  return {
    type: 'value', gridIndex: g, min: min, max: max, interval: interval,
    position: o.right ? 'right' : 'left', inverse: !!o.inverse,
    axisLine: { show: true, onZero: false, lineStyle: { color: c, width: 1 } },
    axisTick: { show: true, length: 3, lineStyle: { color: c } },
    splitLine: { show: false },
    axisLabel: { margin: o.margin || 7, fontSize: 10.5, fontFamily: FONT, color: '#000' }
  };
}
const zeroLine = {
  silent: true, symbol: ['none', 'none'], label: { show: false },
  lineStyle: { color: ZERO, width: 1, type: 'solid' }, emphasis: { disabled: true },
  data: [{ yAxis: 0 }], animation: false
};
function line(name, data, color, xi, yi, width, extra) {
  return Object.assign({
    type: 'line', name: name, data: data, xAxisIndex: xi, yAxisIndex: yi,
    symbol: 'none', showSymbol: false, smooth: false,
    lineStyle: { color: color, width: width || 2 }, itemStyle: { color: color },
    emphasis: { disabled: true }, animation: false
  }, extra || {});
}
function bars(name, data, color, xi, yi, w, extra) {
  return Object.assign({
    type: 'bar', name: name, data: data, xAxisIndex: xi, yAxisIndex: yi,
    barWidth: w, itemStyle: { color: color }, emphasis: { disabled: true }, animation: false
  }, extra || {});
}
function legend(data, left, top, gap, itemHeight, icon) {
  return {
    data: data, left: left, top: top, orient: 'vertical', padding: 0,
    icon: icon || 'rect',
    itemWidth: 28, itemHeight: itemHeight || 3, itemGap: gap, selectedMode: false,
    textStyle: { fontSize: 10, fontFamily: FONT, color: '#000', lineHeight: 12, padding: [0, 0, 0, -2] }
  };
}

const option = {
  animation: false,
  textStyle: { fontFamily: FONT },
  grid: [
    { left: 150.7, top: 167.7, width: 231, height: 183 },
    { left: 444, top: 165.7, width: 230.4, height: 185.3 },
    { left: 150.7, top: 468.3, width: 215, height: 179.4 },
    { left: 440.7, top: 463, width: 243, height: 186.7 },
    { left: 150.7, top: 751.7, width: 215, height: 180 },
    { left: 438.3, top: 751.7, width: 226, height: 185.6 }
  ],
  xAxis: [
    xAx(0, 2011, 2019.25, fig1Years, yy, 6.5),
    xAx(1, 2006.84, 2019.24, fig2Years, yy, 7),
    xAx(2, 2011.965, 2019.39, fig3Years, yyyy, 6),
    xAx(3, 2011.74, 2020.08, fig4Years, yyyy, 7.5),
    xAx(4, 2010, 2019.43, fig5Years, yy, 7),
    xAx(5, 2011, 2019.22, fig6Years, yyyy, 6.5, true)
  ],
  yAxis: [
    yAx(0, -30, 50, 10, { margin: 8 }),
    yAx(1, -5, 55, 5, { margin: 7 }),
    yAx(2, -40, 80, 10, { margin: 8 }),
    yAx(2, -10, 20, 5, { right: true, color: AXIS2, margin: 7 }),
    yAx(3, -10, 25, 5, { margin: 5 }),
    yAx(4, -40, 80, 20, { margin: 9 }),
    yAx(4, -24, 12, 4, { right: true, inverse: true, color: AXIS2, margin: 4 }),
    yAx(5, 8, 26, 2, { margin: 6 }),
    yAx(5, -16, 16, 4, { right: true, color: AXIS2, margin: 5 })
  ],
  legend: [
    legend(['Floor space started', 'Floor space sold'], 216.7, 166.3, 8, 3.5),
    legend([{ name: 'Nominal FAI', icon: 'rect' }, 'Real estate development', 'Infrastructure', 'Manufacturing'], 520, 169, 0.7, 5, THIN_ICON),
    legend([{ name: 'Nominal trade balance (LHS)', icon: 'rect' }, 'Real import growth', 'Real export growth (adj for over-invoicing)'], 153.3, 466.7, 0, 5, THIN_ICON),
    legend(['Headline IP', 'Electric Machinery', 'Auto', 'Chemical', 'Communication appliance'], 476.7, 579, 1.2, 3),
    legend(['Farm live pig price', 'Pig sow stock (inverted, RHS)'], 191.7, 763.3, 3, 3.2),
    legend(['TSF outstanding excl equity', 'TSF excl equity + local bond outstanding', 'Credit impulse (RHS)'], 450, 749, 0.5, 3)
  ],
  series: [
    // Figure 1
    line('Floor space started', fig1Started, GREEN, 0, 0, 2.5, { markLine: zeroLine }),
    line('Floor space sold', fig1Sold, RED, 0, 0, 2.5),
    // Figure 2
    bars('Nominal FAI', monthly(fig2FaiStart, fig2Fai), BARG, 1, 1, 1.3, { markLine: zeroLine }),
    line('Real estate development', fig2RealEstate, NAVY, 1, 1, 2),
    line('Infrastructure', fig2Infra, RED, 1, 1, 2),
    line('Manufacturing', fig2Manuf, LAV, 1, 1, 2),
    // Figure 3
    bars('Nominal trade balance (LHS)', monthly(fig3TradeStart, fig3Trade), BARG, 2, 2, 1.4, { markLine: zeroLine }),
    line('Real import growth', fig3Import, RED, 2, 3, 2.2),
    line('Real export growth (adj for over-invoicing)', fig3Export, NAVY, 2, 3, 2.2),
    // Figure 4
    line('Headline IP', fig4Headline, NAVY, 3, 4, 2.4, { markLine: zeroLine }),
    line('Electric Machinery', fig4Electric, GREEN, 3, 4, 2.4),
    line('Auto', fig4Auto, RED, 3, 4, 2.4),
    line('Chemical', fig4Chemical, ORANGE, 3, 4, 2.4),
    line('Communication appliance', fig4Comm, CYAN, 3, 4, 2.4),
    // Figure 5
    line('Farm live pig price', zip(fig5Time, fig5Pig), GREEN, 4, 5, 2.6, { markLine: zeroLine }),
    line('Pig sow stock (inverted, RHS)', zip(fig5Time, fig5Sow), NAVY, 4, 6, 2.6),
    // Figure 6
    line('TSF outstanding excl equity', fig6Tsf, GREEN, 5, 7, 2.4),
    line('TSF excl equity + local bond outstanding', fig6TsfBond, RED, 5, 7, 2.4),
    line('Credit impulse (RHS)', fig6Impulse, NAVY, 5, 8, 2.4)
  ]
};

const chart = echarts.init(document.getElementById('chart'), null, { renderer: 'svg', width: 802, height: 1133 });
chart.setOption(option);
</script>
</body>
</html>
